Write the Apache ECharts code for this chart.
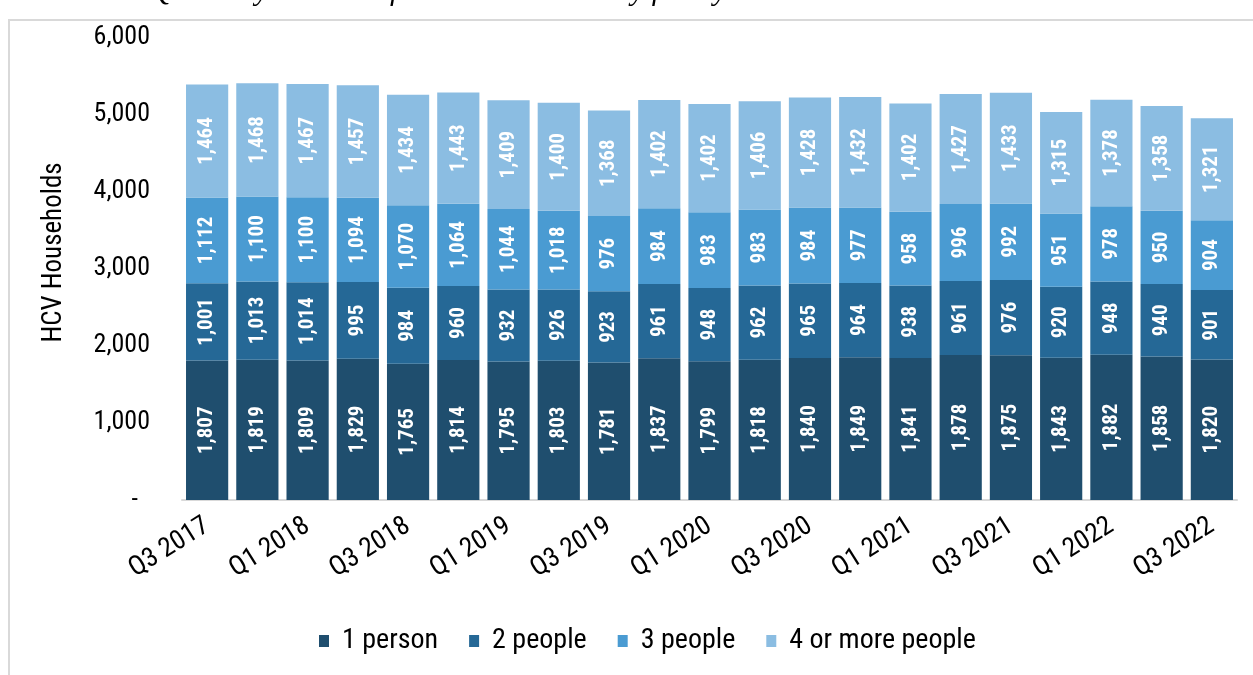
<!DOCTYPE html>
<html>
<head>
<meta charset="utf-8">
<script src="https://cdn.jsdelivr.net/npm/echarts@6/dist/echarts.min.js"></script>
<style>
html,body{margin:0;padding:0;background:#fff;}
#main{width:1253px;height:675px;}
</style>
</head>
<body>
<div id="main"></div>
<script>
const categories = ['Q3 2017','Q4 2017','Q1 2018','Q2 2018','Q3 2018','Q4 2018','Q1 2019','Q2 2019','Q3 2019','Q4 2019','Q1 2020','Q2 2020','Q3 2020','Q4 2020','Q1 2021','Q2 2021','Q3 2021','Q4 2021','Q1 2022','Q2 2022','Q3 2022'];
const onePerson = [1807,1819,1809,1829,1765,1814,1795,1803,1781,1837,1799,1818,1840,1849,1841,1878,1875,1843,1882,1858,1820];
const twoPeople = [1001,1013,1014,995,984,960,932,926,923,961,948,962,965,964,938,961,976,920,948,940,901];
const threePeople = [1112,1100,1100,1094,1070,1064,1044,1018,976,984,983,983,984,977,958,996,992,951,978,950,904];
const fourPlus = [1464,1468,1467,1457,1434,1443,1409,1400,1368,1402,1402,1406,1428,1432,1402,1427,1433,1315,1378,1358,1321];
const seriesNames = ['1 person','2 people','3 people','4 or more people'];
const colors = ['#1F4E6E','#256896','#4A9BD2','#8BBDE2'];

const FONT = "'Roboto Condensed','Liberation Sans Narrow','DejaVu Sans Condensed',Roboto,sans-serif";
const fmt = v => v.toLocaleString('en-US');

const chart = echarts.init(document.getElementById('main'), null, {renderer:'canvas'});
const dataSets = [onePerson, twoPeople, threePeople, fourPlus];
const series = dataSets.map((d, i) => ({
  name: seriesNames[i],
  type: 'bar',
  stack: 'total',
  data: d,
  barCategoryGap: '16%',
  itemStyle: {color: colors[i]},
  label: {
    show: true,
    position: 'inside',
    rotate: 90,
    color: '#ffffff',
    fontFamily: FONT,
    fontWeight: 'bold',
    fontSize: 21,
    formatter: p => fmt(p.value)
  }
}));

chart.setOption({
  animation: false,
  backgroundColor: '#ffffff',
  color: colors,
  graphic: [
    {type:'rect', shape:{x:9, y:20, width:1260, height:700}, style:{fill:'none', stroke:'#d9d9d9', lineWidth:2}, silent:true},
    {type:'text', silent:true, style:{x: 26, y: 7, verticalAlign:'bottom', text:'Exhibit 4. Quarterly number of HCV households by family size', font:"italic 30px 'Liberation Serif', serif", fill:'#000'}}
  ],
  grid: {left:182, right:16, top:37, bottom:175},
  legend: {
    bottom: 15,
    left: 314,
    itemWidth: 10,
    itemHeight: 12,
    itemGap: 31,
    icon: 'rect',
    textStyle: {fontFamily: FONT, fontSize: 28, color:'#000', padding:[0,0,0,8]},
    data: seriesNames
  },
  xAxis: {
    type: 'category',
    data: categories,
    axisLine: {lineStyle:{color:'#d9d9d9', width:2}},
    axisTick: {show:false},
    axisLabel: {interval:1, rotate:32, margin:24, fontFamily: FONT, fontSize:27, color:'#000'}
  },
  yAxis: {
    type: 'value',
    min: 0, max: 6000, interval: 1000,
    name: 'HCV Households',
    nameLocation: 'middle',
    nameGap: 114,
    nameTextStyle: {fontFamily: FONT, fontSize: 27, color:'#000', padding:[0,0,0,32]},
    axisLine: {show:false},
    axisTick: {show:false},
    splitLine: {show:false},
    axisLabel: {margin: 32, fontFamily: FONT, fontSize: 26, color:'#000', formatter: v => v === 0 ? '-  ' : fmt(v)}
  },
  series: series
});
</script>
</body>
</html>
